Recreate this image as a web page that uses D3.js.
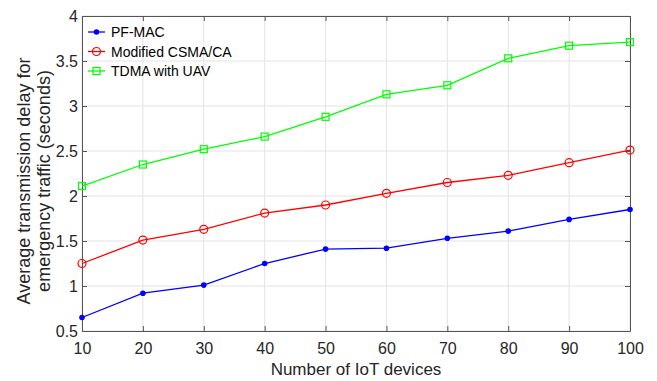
<!DOCTYPE html>
<html>
<head>
<meta charset="utf-8">
<script src="https://cdn.jsdelivr.net/npm/d3@7"></script>
<style>
	body { margin:0; background:#fff; }
	svg { font-family: Arial, "Liberation Sans", sans-serif; }
	.grid line { stroke:#e3e3e3; stroke-width:1; }
	.axis path, .axis line { stroke:#555; }
	.axis text { fill:#262626; font-size:16px; }
</style>
</head>
<body>
<svg width="657" height="381"></svg>
<script>
var devices = [10, 20, 30, 40, 50, 60, 70, 80, 90, 100]
var pfMac = [0.65, 0.92, 1.01, 1.25, 1.41, 1.42, 1.53, 1.61, 1.74, 1.85]
var csma = [1.25, 1.51, 1.63, 1.81, 1.90, 2.03, 2.15, 2.23, 2.37, 2.51]
var tdma = [2.11, 2.35, 2.52, 2.66, 2.88, 3.13, 3.23, 3.53, 3.67, 3.71]
var yTicks = [0.5, 1, 1.5, 2, 2.5, 3, 3.5, 4]
var seriesNames = ['PF-MAC', 'Modified CSMA/CA', 'TDMA with UAV']
var seriesColors = ['#0000ff', '#ff0000', '#00ff00']

var margin = { top:16, left:82, right:27, bottom:50 }
var svg = d3.select('svg')
var width = 657 - margin.left - margin.right
var height = 381 - margin.top - margin.bottom
var g = svg.append('g').attr('transform', 'translate(' + margin.left + ',' + margin.top + ')')

var x = d3.scaleLinear().domain([10, 100]).range([0, width])
var y = d3.scaleLinear().domain([0.5, 4]).range([height, 0])

// grid
g.append('g').attr('class', 'grid')
	.selectAll('line.gx').data(devices).enter().append('line')
	.attr('x1', function(d) { return x(d) }).attr('x2', function(d) { return x(d) })
	.attr('y1', 0).attr('y2', height)
g.append('g').attr('class', 'grid')
	.selectAll('line.gy').data(yTicks).enter().append('line')
	.attr('y1', function(d) { return y(d) }).attr('y2', function(d) { return y(d) })
	.attr('x1', 0).attr('x2', width)

// axes
g.append('g').attr('class', 'axis')
	.attr('transform', 'translate(0,' + height + ')')
	.call(d3.axisBottom(x).tickValues(devices).tickSizeInner(-5).tickSizeOuter(0).tickPadding(12))
g.append('g').attr('class', 'axis')
	.call(d3.axisLeft(y).tickValues(yTicks).tickFormat(d3.format('')).tickSizeInner(-5).tickSizeOuter(0).tickPadding(4))
g.append('g').attr('class', 'axis')
	.attr('transform', 'translate(' + width + ',0)')
	.call(d3.axisRight(y).tickValues(yTicks).tickFormat('').tickSizeInner(-5).tickSizeOuter(0))
g.append('g').attr('class', 'axis axis--top')
	.call(d3.axisTop(x).tickValues(devices).tickFormat('').tickSizeInner(-5).tickSizeOuter(0))
g.select('.axis--top path').attr('stroke', '#999')

// lines
var allSeries = [pfMac, csma, tdma]
var line = d3.line()
	.x(function(d, i) { return x(devices[i]) })
	.y(function(d) { return y(d) })

allSeries.forEach(function(vals, s) {
	var col = seriesColors[s]
	g.append('path').datum(vals)
		.attr('d', line).attr('fill', 'none')
		.attr('stroke', col).attr('stroke-width', 1.3)
	var pts = g.append('g').selectAll('.pt').data(vals).enter()
	drawMarker(pts, s, col,
		function(d, i) { return x(devices[i]) },
		function(d) { return y(d) })
})

function drawMarker(sel, s, col, fx, fy) {
	if (s === 0) {
		sel.append('circle').attr('cx', fx).attr('cy', fy).attr('r', 2.8).attr('fill', col)
	} else if (s === 1) {
		sel.append('circle').attr('cx', fx).attr('cy', fy).attr('r', 4)
			.attr('fill', 'none').attr('stroke', col).attr('stroke-width', 1.2)
	} else {
		sel.append('rect')
			.attr('x', function(d, i) { return fx(d, i) - 3.5 })
			.attr('y', function(d, i) { return fy(d, i) - 3.5 })
			.attr('width', 7).attr('height', 7)
			.attr('fill', 'none').attr('stroke', col).attr('stroke-width', 1.2)
	}
}

// legend
var legend = g.append('g').attr('transform', 'translate(6,16)')
seriesNames.forEach(function(name, s) {
	var row = legend.append('g').attr('transform', 'translate(0,' + (s * 19.5) + ')')
	row.append('line').attr('x1', 0).attr('x2', 17).attr('y1', 0).attr('y2', 0)
		.attr('stroke', seriesColors[s]).attr('stroke-width', 1.3)
	drawMarker(row.selectAll('.m').data([0]).enter(), s, seriesColors[s],
		function() { return 8.5 }, function() { return 0 })
	row.append('text').attr('x', 23).attr('y', 5)
		.attr('font-size', '14px').attr('fill', '#000').text(name)
})

// axis titles
svg.append('text')
	.attr('x', margin.left + width / 2).attr('y', 375)
	.attr('text-anchor', 'middle').attr('font-size', '17px').attr('fill', '#262626')
	.text('Number of IoT devices')
var yl = svg.append('text')
	.attr('transform', 'translate(30,181)rotate(-90)')
	.attr('text-anchor', 'middle').attr('font-size', '18px').attr('fill', '#262626')
yl.append('tspan').attr('x', 0).attr('dy', 0).text('Average transmission delay for')
yl.append('tspan').attr('x', 0).attr('dy', 20).text('emergency traffic (seconds)')
</script>
</body>
</html>
